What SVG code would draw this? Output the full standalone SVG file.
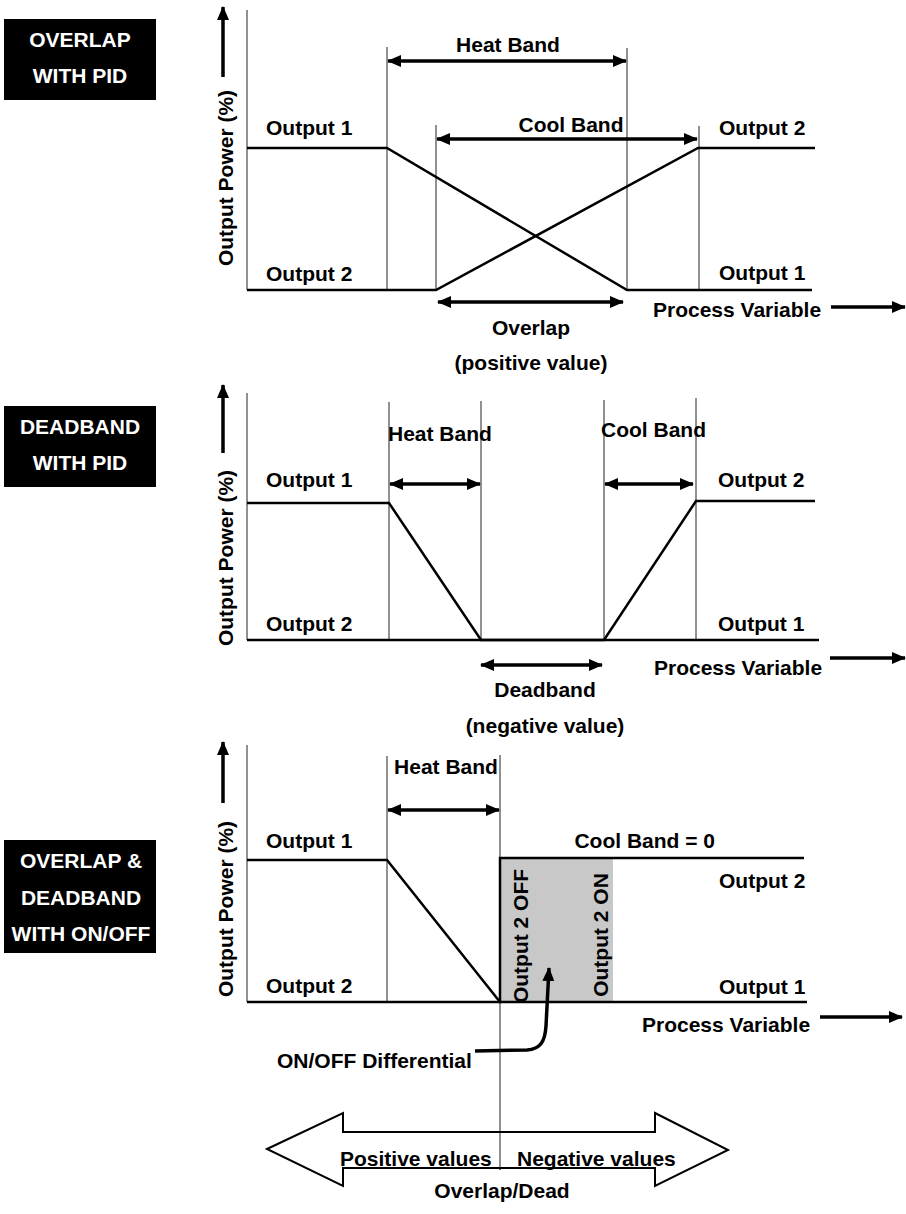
<svg xmlns="http://www.w3.org/2000/svg" width="906" height="1214" viewBox="0 0 906 1214">
<defs>
<style>
text{font-family:"Liberation Sans",Arial,sans-serif;font-weight:bold;font-size:21px;fill:#000}
.lbl text{fill:#fff;text-anchor:middle}
.mid{text-anchor:middle}
.end{text-anchor:end}
.thin{stroke:#222;stroke-width:1;fill:none}
.curve{stroke:#000;stroke-width:2.5;fill:none}
.arr{stroke:#000;stroke-width:3.5;fill:none}
</style>
<marker id="ah" markerUnits="userSpaceOnUse" markerWidth="14" markerHeight="13" refX="13" refY="6.5" orient="auto-start-reverse" viewBox="0 0 14 13">
<path d="M0,0.5 L14,6.5 L0,12.5 z" fill="#000"/>
</marker>
</defs>
<rect width="906" height="1214" fill="#fff"/>

<!-- Panel labels -->
<g id="label1" class="lbl">
<rect x="4" y="19" width="152" height="81" fill="#000"/>
<text x="80" y="47">OVERLAP</text>
<text x="80" y="83">WITH PID</text>
</g>
<g id="label2" class="lbl">
<rect x="4" y="406" width="152" height="81" fill="#000"/>
<text x="80" y="434">DEADBAND</text>
<text x="80" y="470">WITH PID</text>
</g>
<g id="label3" class="lbl">
<rect x="4" y="840" width="152" height="113" fill="#000"/>
<text x="81" y="868">OVERLAP &amp;</text>
<text x="81" y="905">DEADBAND</text>
<text x="81" y="941">WITH ON/OFF</text>
</g>

<!-- Panel 1 -->
<g id="panel1">
<line class="thin" x1="247" y1="10" x2="247" y2="290"/>
<line class="thin" x1="387" y1="47" x2="387" y2="290"/>
<line class="thin" x1="627" y1="48" x2="627" y2="290"/>
<line class="thin" x1="436" y1="125" x2="436" y2="290"/>
<line class="thin" x1="699" y1="126" x2="699" y2="290"/>
<polyline class="curve" points="247,148 387,148 627,290 812,290"/>
<polyline class="curve" points="247,290 436,290 698,148 815,148"/>
<text transform="translate(233,178) rotate(-90)" class="mid">Output Power (%)</text>
<text x="266" y="135">Output 1</text>
<text x="266" y="281">Output 2</text>
<text x="719" y="135">Output 2</text>
<text x="719" y="280">Output 1</text>
<text x="508" y="52" class="mid">Heat Band</text>
<text x="571" y="132" class="mid">Cool Band</text>
<text x="531" y="335" class="mid">Overlap</text>
<text x="531" y="370" class="mid">(positive value)</text>
<text x="653" y="317">Process Variable</text>
</g>

<!-- Panel 2 -->
<g id="panel2">
<line class="thin" x1="247" y1="393" x2="247" y2="640"/>
<line class="thin" x1="389" y1="402" x2="389" y2="640"/>
<line class="thin" x1="481" y1="401" x2="481" y2="640"/>
<line class="thin" x1="604" y1="400" x2="604" y2="640"/>
<line class="thin" x1="696" y1="398" x2="696" y2="640"/>
<polyline class="curve" points="247,503 389,503 481,640 819,640"/>
<polyline class="curve" points="247,640 604,640 696,501 815,501"/>
<text transform="translate(233,558) rotate(-90)" class="mid">Output Power (%)</text>
<text x="266" y="487">Output 1</text>
<text x="266" y="631">Output 2</text>
<text x="718" y="487">Output 2</text>
<text x="718" y="631">Output 1</text>
<text x="388" y="441">Heat Band</text>
<text x="601" y="437">Cool Band</text>
<text x="545" y="697" class="mid">Deadband</text>
<text x="545" y="733" class="mid">(negative value)</text>
<text x="654" y="675">Process Variable</text>
</g>

<!-- Panel 3 -->
<g id="panel3">
<rect x="501" y="858" width="112" height="144" fill="#c8c8c8"/>
<line class="thin" x1="247" y1="745" x2="247" y2="1002"/>
<line class="thin" x1="387" y1="756" x2="387" y2="1002"/>
<line class="thin" x1="500" y1="755" x2="500" y2="1170"/>
<polyline class="curve" points="247,860 387,860 500,1002 807,1002"/>
<polyline class="curve" points="247,1002 500,1002 500,858 804,858"/>
<text transform="translate(233,909) rotate(-90)" class="mid">Output Power (%)</text>
<text transform="translate(528,936) rotate(-90)" class="mid">Output 2 OFF</text>
<text transform="translate(608,935) rotate(-90)" class="mid">Output 2 ON</text>
<text x="266" y="848">Output 1</text>
<text x="266" y="993">Output 2</text>
<text x="715" y="848" class="end">Cool Band = 0</text>
<text x="719" y="888">Output 2</text>
<text x="719" y="994">Output 1</text>
<text x="446" y="774" class="mid">Heat Band</text>
<text x="642" y="1032">Process Variable</text>
<text x="277" y="1068">ON/OFF Differential</text>
</g>

<!-- Bottom overlap/dead arrow -->
<g id="overlapdead">
<polygon points="267,1149 343,1113 343,1132 655,1132 655,1113 728,1150 655,1186 655,1168 343,1168 343,1186" fill="#fff" stroke="#000" stroke-width="2"/>
<line class="thin" x1="500" y1="1132" x2="500" y2="1170"/>
<text x="340" y="1166">Positive values</text>
<text x="517" y="1166">Negative values</text>
<text x="502" y="1198" class="mid">Overlap/Dead</text>
</g>

<!-- Connectors / arrows -->
<g id="connectors">
<line class="arr" x1="223" y1="77" x2="223" y2="7" marker-end="url(#ah)"/>
<line class="arr" x1="223" y1="453" x2="223" y2="385" marker-end="url(#ah)"/>
<line class="arr" x1="223" y1="803" x2="223" y2="742" marker-end="url(#ah)"/>
<line class="arr" x1="831" y1="307" x2="905" y2="307" marker-end="url(#ah)"/>
<line class="arr" x1="830" y1="658" x2="905" y2="658" marker-end="url(#ah)"/>
<line class="arr" x1="820" y1="1017" x2="902" y2="1017" marker-end="url(#ah)"/>
<line class="arr" x1="388" y1="61" x2="626" y2="61" marker-start="url(#ah)" marker-end="url(#ah)"/>
<line class="arr" x1="437" y1="139" x2="697" y2="139" marker-start="url(#ah)" marker-end="url(#ah)"/>
<line class="arr" x1="438" y1="302" x2="623" y2="302" marker-start="url(#ah)" marker-end="url(#ah)"/>
<line class="arr" x1="390" y1="484" x2="480" y2="484" marker-start="url(#ah)" marker-end="url(#ah)"/>
<line class="arr" x1="605" y1="484" x2="693" y2="484" marker-start="url(#ah)" marker-end="url(#ah)"/>
<line class="arr" x1="481" y1="665" x2="602" y2="665" marker-start="url(#ah)" marker-end="url(#ah)"/>
<line class="arr" x1="388" y1="810" x2="499" y2="810" marker-start="url(#ah)" marker-end="url(#ah)"/>
<path class="arr" d="M475,1051 L527,1050 C541,1049 545,1041 546,1026 L549,968" marker-end="url(#ah)"/>
</g>
</svg>
